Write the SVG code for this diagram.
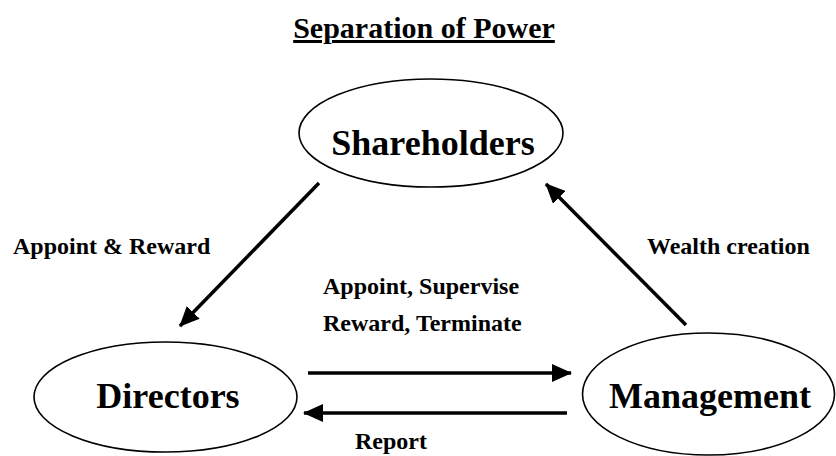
<svg xmlns="http://www.w3.org/2000/svg" width="836" height="456" viewBox="0 0 836 456">
<style>
  text { font-family: "Liberation Serif", "Times New Roman", serif; font-weight: bold; fill: #000; }
  .node ellipse { fill: none; stroke: #000; stroke-width: 1.6; }
  .node text { font-size: 36px; text-anchor: middle; }
  .lbl { font-size: 24px; }
  .conn line { stroke: #000; stroke-width: 3.5; marker-end: url(#ah); }
</style>
<defs>
  <marker id="ah" markerUnits="userSpaceOnUse" viewBox="0 0 20 18" refX="19" refY="9" markerWidth="20" markerHeight="18" orient="auto">
    <path d="M0,0 L20,9 L0,18 Z" fill="#000"/>
  </marker>
</defs>
<rect width="836" height="456" fill="#fff"/>
<text x="424" y="38" font-size="30" text-anchor="middle" text-decoration="underline">Separation of Power</text>

<g id="shareholders" class="node">
  <ellipse cx="431" cy="133" rx="132" ry="54"/>
  <text x="433" y="155">Shareholders</text>
</g>
<g id="directors" class="node">
  <ellipse cx="165.5" cy="397" rx="131.5" ry="55"/>
  <text x="168" y="408">Directors</text>
</g>
<g id="management" class="node">
  <ellipse cx="708.5" cy="394" rx="126" ry="61"/>
  <text x="710" y="408">Management</text>
</g>

<g id="connectors" class="conn">
  <line x1="319" y1="183" x2="180" y2="326"/>
  <line x1="686" y1="325" x2="546" y2="184"/>
  <line x1="308" y1="373" x2="571" y2="373"/>
  <line x1="567" y1="413" x2="304" y2="413"/>
</g>

<text class="lbl" x="13" y="254">Appoint &amp; Reward</text>
<text class="lbl" x="647" y="254">Wealth creation</text>
<text class="lbl" x="323" y="294">Appoint, Supervise</text>
<text class="lbl" x="323" y="331">Reward, Terminate</text>
<text class="lbl" x="355" y="449">Report</text>
</svg>
